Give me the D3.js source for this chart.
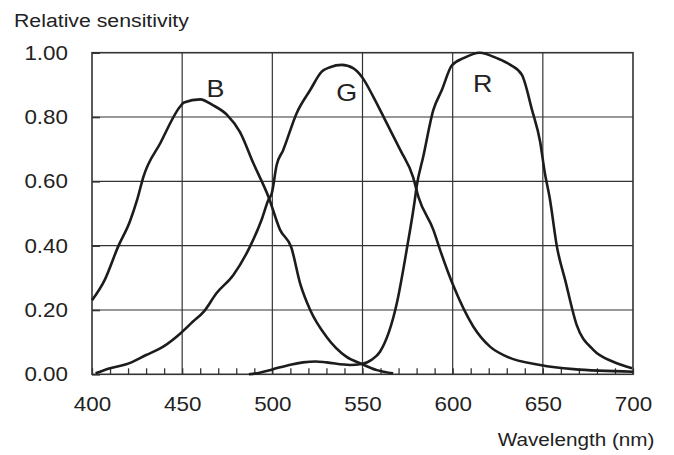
<!DOCTYPE html>
<html>
<head>
<meta charset="utf-8">
<script src="https://cdn.jsdelivr.net/npm/d3@7"></script>
<style>
  body { margin: 0; background: #fff; }
  text { font-family: "Liberation Sans", Arial, Helvetica, sans-serif; fill: #222; }
</style>
</head>
<body>
<div id="chart"></div>
<script>
// Spectral sensitivity (wavelength nm, relative value)
const blueWl  = [400, 407, 414.5, 421, 425, 428.5, 438, 448.8, 451, 460, 467, 475, 482, 489.5, 498, 504.3, 510.5, 515.4, 521, 530, 541, 549.6, 558, 567];
const blueVal = [0.23, 0.293, 0.397, 0.475, 0.542, 0.614, 0.72, 0.832, 0.845, 0.855, 0.837, 0.806, 0.754, 0.656, 0.55, 0.449, 0.395, 0.283, 0.2, 0.117, 0.055, 0.032, 0.013, 0.003];

const greenWl  = [402, 410, 419, 430, 439.5, 449, 456, 462, 469, 478.4, 487.6, 494, 497.8, 499.7, 502.4, 506, 513.5, 521, 527.4, 532, 538.5, 545, 549.6, 556, 563.5, 571, 578, 581, 589.3, 593, 600.4, 611.5, 620.7, 630, 648.5, 667, 700];
const greenVal = [0.003, 0.019, 0.031, 0.06, 0.086, 0.127, 0.164, 0.195, 0.252, 0.309, 0.397, 0.48, 0.542, 0.563, 0.651, 0.697, 0.812, 0.884, 0.941, 0.955, 0.962, 0.951, 0.925, 0.863, 0.78, 0.697, 0.614, 0.552, 0.449, 0.387, 0.275, 0.148, 0.086, 0.055, 0.029, 0.016, 0.008];

const redWl  = [487, 493, 500, 510, 517, 524, 530, 543, 549.6, 555, 559.7, 569, 574.5, 579, 580, 583.7, 589.3, 594, 599.5, 606, 615, 624.5, 632, 638.4, 644, 648.5, 651, 654, 657.8, 662.4, 668.8, 678, 689, 699.5];
const redVal = [0, 0.005, 0.015, 0.03, 0.037, 0.04, 0.037, 0.029, 0.032, 0.045, 0.07, 0.22, 0.387, 0.542, 0.583, 0.677, 0.822, 0.884, 0.96, 0.983, 1.0, 0.983, 0.962, 0.931, 0.822, 0.723, 0.63, 0.542, 0.397, 0.293, 0.153, 0.076, 0.039, 0.019];

// curve labels: name, wavelength, value of the text baseline
const curveNames  = ['B', 'G', 'R'];
const curveNameWl = [468.5, 541.3, 616.6];
const curveNameY  = [0.863, 0.85, 0.879];

const xTicks = [400, 450, 500, 550, 600, 650, 700];
const yTicks = [0, 0.2, 0.4, 0.6, 0.8, 1.0];

const xLabel = 'Wavelength (nm)';
const yLabel = 'Relative sensitivity';

class SensitivityChart {
  constructor(_config) {
    this.config = {
      parentElement: _config.parentElement,
      containerWidth: 674,
      containerHeight: 455,
      margin: {top: 52.7, right: 41, bottom: 80.7, left: 92},
      stretch: 1.12
    };
    this.series = [
      {wl: blueWl, val: blueVal},
      {wl: greenWl, val: greenVal},
      {wl: redWl, val: redVal}
    ];
    this.initVis();
  }

  initVis() {
    let vis = this;
    const c = vis.config;
    vis.width = c.containerWidth - c.margin.left - c.margin.right;
    vis.height = c.containerHeight - c.margin.top - c.margin.bottom;

    vis.svg = d3.select(c.parentElement).append('svg')
        .attr('width', c.containerWidth)
        .attr('height', c.containerHeight);

    vis.g = vis.svg.append('g')
        .attr('transform', `translate(${c.margin.left},${c.margin.top})`);

    vis.x = d3.scaleLinear().domain([400, 700]).range([0, vis.width]);
    vis.y = d3.scaleLinear().domain([0, 1]).range([vis.height, 0]);

    vis.renderVis();
  }

  renderVis() {
    let vis = this;
    const s = vis.config.stretch;

    // grid
    vis.g.append('g').selectAll('line')
        .data(xTicks.slice(1, -1))
      .join('line')
        .attr('x1', d => vis.x(d)).attr('x2', d => vis.x(d))
        .attr('y1', 0).attr('y2', vis.height)
        .attr('stroke', '#333').attr('stroke-width', 1.2);

    vis.g.append('g').selectAll('line')
        .data(yTicks.slice(1, -1))
      .join('line')
        .attr('x1', 0).attr('x2', vis.width)
        .attr('y1', d => vis.y(d)).attr('y2', d => vis.y(d))
        .attr('stroke', '#333').attr('stroke-width', 1.2);

    // minor ticks every 10 nm, inside
    const minor = vis.g.append('g')
        .attr('transform', `translate(0,${vis.height})`)
        .call(d3.axisBottom(vis.x).tickValues(d3.range(400, 701, 10)).tickSize(-6).tickFormat(''));
    minor.select('.domain').remove();
    minor.selectAll('line').attr('stroke', '#333').attr('stroke-width', 1.3);

    // x axis labels
    const xAxis = vis.g.append('g')
        .attr('transform', `translate(0,${vis.height})`)
        .call(d3.axisBottom(vis.x).tickValues(xTicks).tickSize(0).tickPadding(23));
    xAxis.select('.domain').remove();
    xAxis.selectAll('text')
        .attr('font-size', 20)
        .attr('font-family', '"Liberation Sans", Arial, sans-serif')
        .attr('fill', '#222')
        .attr('transform', `scale(${s},1)`);

    // y axis with short inside ticks
    const yAxis = vis.g.append('g')
        .call(d3.axisLeft(vis.y).tickValues(yTicks).tickSize(-8).tickPadding(24).tickFormat(d3.format('.2f')));
    yAxis.select('.domain').remove();
    yAxis.selectAll('line').attr('stroke', '#333').attr('stroke-width', 1.6);
    yAxis.selectAll('text')
        .attr('font-size', 20)
        .attr('font-family', '"Liberation Sans", Arial, sans-serif')
        .attr('fill', '#222')
        .attr('x', -24 / s)
        .attr('transform', `scale(${s},1)`);

    // frame
    vis.g.append('rect')
        .attr('width', vis.width).attr('height', vis.height)
        .attr('fill', 'none').attr('stroke', '#333').attr('stroke-width', 1.6);

    // curves
    const line = d3.line()
        .x(d => vis.x(d[0]))
        .y(d => vis.y(d[1]))
        .curve(d3.curveMonotoneX);

    vis.g.append('g').selectAll('path')
        .data(vis.series)
      .join('path')
        .attr('d', d => line(d.wl.map((w, i) => [w, d.val[i]])))
        .attr('fill', 'none')
        .attr('stroke', '#1c1c1c')
        .attr('stroke-width', 2.6)
        .attr('stroke-linejoin', 'round');

    // curve names
    vis.g.append('g').selectAll('g')
        .data(curveNames)
      .join('g')
        .attr('transform', (d, i) => `translate(${vis.x(curveNameWl[i])},${vis.y(curveNameY[i])}) scale(${s},1)`)
      .append('text')
        .attr('text-anchor', 'middle')
        .attr('font-size', 24)
        .attr('fill', '#3a3a3a')
        .text(d => d);

    // axis titles
    vis.svg.append('g')
        .attr('transform', `translate(14,26.5) scale(${s},1)`)
      .append('text')
        .attr('font-size', 19)
        .text(yLabel);

    vis.svg.append('g')
        .attr('transform', `translate(654.5,446) scale(${s},1)`)
      .append('text')
        .attr('font-size', 18.5)
        .attr('text-anchor', 'end')
        .text(xLabel);
  }
}

new SensitivityChart({parentElement: '#chart'});
</script>
</body>
</html>
